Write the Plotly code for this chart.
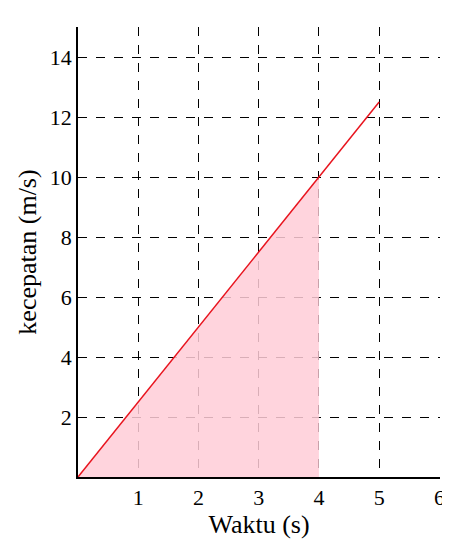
import plotly.graph_objects as go

# velocity line and shaded area
line_t = [0, 5]
line_v = [0, 12.5]
area_t = [0, 4, 4]
area_v = [0, 10, 0]
x_ticks = [1, 2, 3, 4, 5, 6]
y_ticks = [2, 4, 6, 8, 10, 12, 14]

fig = go.Figure()
fig.add_trace(go.Scatter(x=area_t, y=area_v, fill="toself", mode="none",
                         fillcolor="rgba(255,205,215,0.85)"))
fig.add_trace(go.Scatter(x=line_t, y=line_v, mode="lines",
                         line=dict(color="#e8141e", width=1.5)))

fig.update_layout(
    width=450, height=540, showlegend=False,
    plot_bgcolor="white", paper_bgcolor="white",
    margin=dict(l=70, r=18, t=19, b=71),
    font=dict(family="Liberation Serif", size=22, color="black"),
)
fig.update_xaxes(range=[0, 6.01], tickvals=x_ticks, showgrid=True,
                 gridcolor="black", griddash="dash", gridwidth=1,
                 showline=True, linecolor="black", linewidth=1.5,
                 ticks="", zeroline=False, automargin=False,
                 title=dict(text="Waktu (s)", standoff=2))
fig.update_yaxes(range=[0, 15], tickvals=y_ticks, showgrid=True,
                 gridcolor="black", griddash="dash", gridwidth=1,
                 showline=True, linecolor="black", linewidth=1.5,
                 ticks="", zeroline=False, automargin=False,
                 title=dict(text="kecepatan (m/s)", standoff=6))

fig.write_html("out.html")
